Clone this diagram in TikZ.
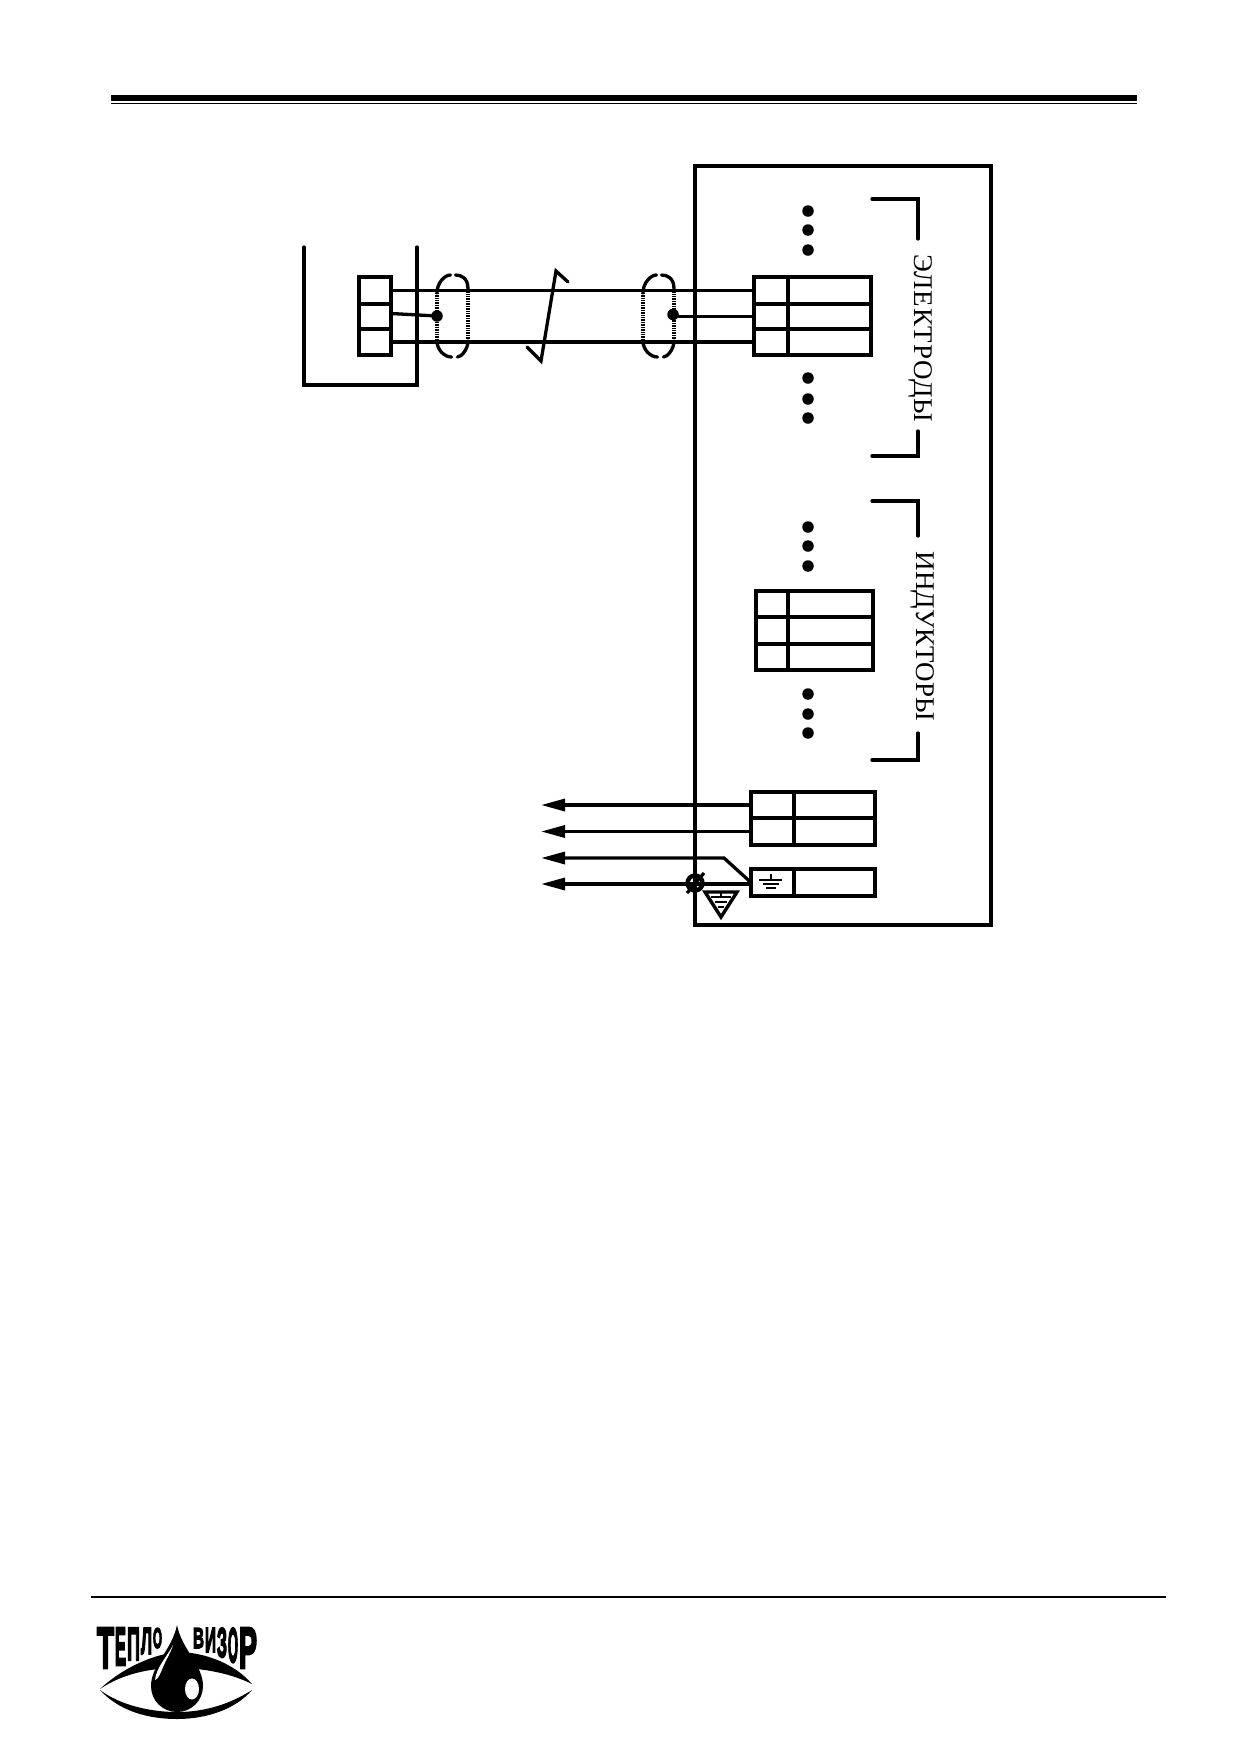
\documentclass[tikz,border=0pt]{standalone}
\usepackage{fontspec}
\setmainfont{Liberation Serif}
\newfontfamily\logofont[BoldFeatures={FakeBold=5}]{Liberation Sans}
\usetikzlibrary{arrows.meta}
\tikzset{ma/.style={line width=3.3pt, line cap=round, line join=miter}}
\tikzset{ar/.style={ma, ->, >={Stealth[length=24pt,width=12pt,inset=0pt]}}}
\tikzset{cell/.style 2 args={draw, line width=3.3pt, inner sep=0pt, outer sep=0pt, minimum width=#1, minimum height=#2}}
\tikzset{dt/.style={draw=none, circle, fill=black, minimum size=11.5pt, inner sep=0pt, outer sep=0pt}}
\tikzset{lbl/.style={rotate=-90, inner sep=0pt, font=\fontsize{27}{28}\selectfont}}
\tikzset{ltr/.style={anchor=north west, inner sep=0pt, outer sep=0pt}}
\tikzset{
  shield/.pic={
    \draw[line width=3.4pt, dash pattern=on 1pt off 0.7pt] (-15.5,-23) -- (-15.5,25);
    \draw[line width=3.4pt, dash pattern=on 1pt off 0.7pt] (15.5,-27) -- (15.5,25);
    \draw[ma] (-15.5,-23) .. controls (-15.5,-33) and (-8,-41) .. (-2,-41);
    \draw[ma] (3,-41) .. controls (9,-41) and (15.5,-38) .. (15.5,-27);
    \draw[ma] (-15.5,25) .. controls (-15.5,34) and (-8,41) .. (-1,41);
    \draw[ma] (5,41) .. controls (9,41) and (15.5,33) .. (15.5,25);
  }
}
\newcommand{\logoltr}[3]{\resizebox{#1pt}{#2pt}{\logofont\bfseries #3}}

\begin{document}
\begin{tikzpicture}[x=1pt,y=-1pt]
\useasboundingbox (0,0) rectangle (1239,1754);

\fill (111,94.5) rectangle (1137,101);
\fill (111,102.5) rectangle (1137,104);
\draw[line width=2.8pt] (91,1597) -- (1166,1597);

% sensor
\draw[ma] (304,247) -- (304,385) -- (417,385) -- (417,247);
\node[cell={32pt}{27pt}] (t1) at (375,290.5) {};
\node[cell={32pt}{25pt}] (t2) at (375,316.5) {};
\node[cell={32pt}{26pt}] (t3) at (375,342) {};

% electrodes
\node[cell={34pt}{27pt}] (e1l) at (771,290.5) {};
\node[cell={34pt}{25pt}] (e2l) at (771,316.5) {};
\node[cell={34pt}{26pt}] (e3l) at (771,342) {};
\node[cell={83pt}{27pt}] (e1r) at (829.5,290.5) {};
\node[cell={83pt}{25pt}] (e2r) at (829.5,316.5) {};
\node[cell={83pt}{26pt}] (e3r) at (829.5,342) {};

% inductors
\node[cell={32pt}{26pt}] (i1l) at (772,604) {};
\node[cell={32pt}{27pt}] (i2l) at (772,630.5) {};
\node[cell={32pt}{26pt}] (i3l) at (772,657) {};
\node[cell={85pt}{26pt}] (i1r) at (830.5,604) {};
\node[cell={85pt}{27pt}] (i2r) at (830.5,630.5) {};
\node[cell={85pt}{26pt}] (i3r) at (830.5,657) {};

% outputs
\node[cell={43pt}{26pt}] (o1l) at (772.5,805) {};
\node[cell={43pt}{27pt}] (o2l) at (772.5,831.5) {};
\node[cell={81pt}{26pt}] (o1r) at (834.5,805) {};
\node[cell={81pt}{27pt}] (o2r) at (834.5,831.5) {};
\node[cell={43pt}{27pt}] (g1l) at (772.5,882.5) {};
\node[cell={81pt}{27pt}] (g1r) at (834.5,882.5) {};

\node[draw, line width=3.3pt, inner sep=0pt, outer sep=0pt, minimum width=296pt, minimum height=759pt] (cab) at (843,545.5) {};

% cable
\pic at (452.5,316) {shield};
\pic at (658.5,316) {shield};
\node[dt] (d1) at (437,316) {};
\node[dt] (d2) at (673,314.5) {};
\draw[ma] (t1.east) -- (e1l.west);
\draw[ma] (t3.east) -- (e3l.west);
\draw[ma] ([yshift=3pt]t2.east) -- (d1);
\draw[ma] (d2.east |- e2l.west) -- (e2l.west);
\draw[ma] (568,282) -- (556,271) -- (541,361) -- (527,347);

% dots
\node[dt] (e1) at (808,211) {};
\node[dt] (e2) at (808,230) {};
\node[dt] (e3) at (808,250) {};
\node[dt] (e4) at (808,378) {};
\node[dt] (e5) at (808,399) {};
\node[dt] (e6) at (808,418) {};
\node[dt] (i1) at (808,527) {};
\node[dt] (i2) at (808,546) {};
\node[dt] (i3) at (808,566) {};
\node[dt] (i4) at (808,694) {};
\node[dt] (i5) at (808,714) {};
\node[dt] (i6) at (808,733) {};

% brackets and labels
\draw[ma] (872,199) -- (918,199) -- (918,239);
\draw[ma] (918,431) -- (918,456) -- (872,456);
\node[lbl] (eLbl) at (921,338.5) {\addfontfeature{LetterSpace=3}ЭЛЕКТРОДЫ};
\draw[ma] (872,501) -- (918,501) -- (918,536);
\draw[ma] (918,733) -- (918,760) -- (872,760);
\node[lbl] (iLbl) at (923,636.5) {ИНДУКТОРЫ};

% output wires
\coordinate (a1) at (541,805);
\coordinate (a2) at (541,831.5);
\coordinate (a3) at (541,858);
\coordinate (a4) at (541,884);
\coordinate (bn) at (724,858);
\draw[ar] (o1l.west) -- (a1);
\draw[ar] (o2l.west) -- (a2);
\draw[ar] (g1l.west) -- (bn) -- (a3);
\draw[ar] (g1l.west |- a4) -- (a4);

% screw and earth
\node[draw, circle, line width=4.4pt, minimum size=15pt, inner sep=0pt] (sc) at (695,883) {};
\draw[line width=3.2pt] (687,893) -- (704,873);
\draw[line width=3.4pt, line join=miter] (705,892) -- (737,892) -- (721,917) -- cycle;
\draw[line width=2.4pt] (721,891) -- (721,897);
\draw[line width=2.4pt] (711,897) -- (731,897);
\draw[line width=2.4pt] (715,902) -- (727,902);
\draw[line width=2.4pt] (718,907) -- (724,907);
\draw[line width=1.5pt] (771,874) -- (771,880);
\draw[line width=1.5pt] (759,880) -- (782,880);
\draw[line width=1.5pt] (763,884) -- (779,884);
\draw[line width=1.5pt] (766,888) -- (776,888);

% logo
\node[ltr] (l1) at (97,1628) {\logoltr{17}{40}{Т}};
\node[ltr] (l2) at (115,1628) {\logoltr{11}{37}{Е}};
\node[ltr] (l3) at (127,1628) {\logoltr{13}{32}{П}};
\node[ltr] (l4) at (141,1628) {\logoltr{11}{26}{Л}};
\node[ltr] (l5) at (153,1628) {\logoltr{9}{20}{О}};
\node[ltr] (l6) at (193,1628) {\logoltr{11}{20}{В}};
\node[ltr] (l7) at (205,1628) {\logoltr{11}{24}{И}};
\node[ltr] (l8) at (217,1628) {\logoltr{10}{29}{З}};
\node[ltr] (l9) at (228,1628) {\logoltr{10}{34}{О}};
\node[ltr] (l10) at (239,1628) {\logoltr{18}{40}{Р}};
\fill (100,1689) .. controls (120,1670) and (150,1655) .. (177,1652) .. controls (205,1652) and (235,1664) .. (252,1684) .. controls (232,1674) and (205,1668) .. (177,1668) .. controls (150,1668) and (122,1674) .. cycle;
\fill (100,1690) .. controls (120,1712) and (150,1719) .. (177,1719) .. controls (205,1719) and (235,1710) .. (252,1690) .. controls (230,1704) and (205,1712) .. (177,1712) .. controls (150,1712) and (120,1705) .. cycle;
\fill (177,1625) .. controls (172,1650) and (151,1665) .. (151,1686) .. controls (151,1701) and (163,1712) .. (177,1712) .. controls (191,1712) and (203,1701) .. (203,1686) .. controls (203,1665) and (182,1650) .. cycle;
\fill[white] (173,1645) .. controls (168,1655) and (156,1668) .. (155,1680) .. controls (158,1680) and (161,1672) .. (163,1667) .. controls (166,1660) and (171,1652) .. cycle;
\fill[white] (192,1689) ellipse (7 and 10.5);
\end{tikzpicture}
\end{document}
